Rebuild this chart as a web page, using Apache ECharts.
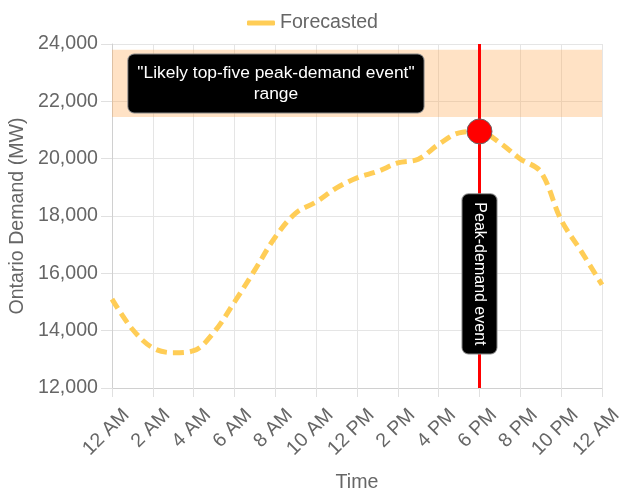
<!DOCTYPE html>
<html>
<head>
<meta charset="utf-8">
<script src="https://cdn.jsdelivr.net/npm/echarts@6/dist/echarts.min.js"></script>
<style>html,body{margin:0;padding:0;background:#fff}#c{width:625px;height:500px}</style>
</head>
<body>
<div id="c"></div>
<script>
const hours = [0,1,2,3,4,5,6,7,8,9,10,11,12,13,14,15,16,17,18,19,20,21,22,23,24];
const forecast = [15100,14050,13400,13230,13300,13950,15000,16120,17270,18100,18490,18980,19330,19550,19850,19980,20500,20900,20950,20550,19990,19540,17860,16750,15600];
const tickLabels = ['12 AM','2 AM','4 AM','6 AM','8 AM','10 AM','12 PM','2 PM','4 PM','6 PM','8 PM','10 PM','12 AM'];
const yTicks = [12000,14000,16000,18000,20000,22000,24000];
const peakHour = 18;
const peakValue = 20950;
const bandRange = [21450, 23800];

const chart = echarts.init(document.getElementById('c'), null, {renderer:'canvas'});
const font = 'Liberation Sans, Arial, Helvetica, sans-serif';
const fs = 19.6;
chart.setOption({
  animation: false,
  textStyle: {fontFamily: font},
  legend: {
    top: 8, left: 'center',
    icon: 'roundRect', itemWidth: 28, itemHeight: 5, itemGap: 10,
    textStyle: {color: '#666', fontSize: fs, fontFamily: font},
    data: ['Forecasted']
  },
  grid: {left: 112, right: 23, top: 44, bottom: 112, containLabel: false, outerBoundsMode: 'none'},
  xAxis: {
    type: 'value', min: 0, max: 24, interval: 2,
    name: 'Time', nameLocation: 'middle', nameGap: 85,
    nameTextStyle: {color: '#666', fontSize: fs, fontFamily: font},
    axisLine: {show: true, lineStyle: {color: '#d0d0d0'}},
    axisTick: {show: true, length: 9, lineStyle: {color: '#e0e0e0'}},
    splitLine: {show: true, lineStyle: {color: '#e5e5e5'}},
    axisLabel: {
      rotate: 45, margin: 10, color: '#666', fontSize: fs, fontFamily: font,
      verticalAlign: 'top', padding: [10, 0, 0, 0],
      formatter: v => tickLabels[Math.round(v/2)]
    }
  },
  yAxis: {
    type: 'value', min: yTicks[0], max: yTicks[yTicks.length-1], interval: 2000,
    name: 'Ontario Demand (MW)', nameLocation: 'middle', nameGap: 79,
    nameTextStyle: {color: '#666', fontSize: fs, fontFamily: font},
    axisLine: {show: true, lineStyle: {color: '#d0d0d0'}},
    axisTick: {show: true, length: 11, lineStyle: {color: '#e0e0e0'}},
    splitLine: {show: true, lineStyle: {color: '#e5e5e5'}},
    axisLabel: {
      color: '#666', fontSize: fs, margin: 14, fontFamily: font,
      formatter: v => v.toLocaleString('en-US')
    }
  },
  series: [{
    name: 'Forecasted',
    type: 'line',
    data: hours.map((h,i) => [h, forecast[i]]),
    smooth: 0.35,
    showSymbol: false,
    symbol: 'none',
    itemStyle: {color: '#ffcd56'},
    lineStyle: {color: '#ffcd56', width: 5, type: [11, 6]},
    z: 3,
    markArea: {
      silent: true,
      itemStyle: {color: 'rgba(255,159,64,0.3)'},
      data: [[{yAxis: bandRange[0]}, {yAxis: bandRange[1]}]]
    },
    markLine: {
      silent: true, symbol: 'none', animation: false,
      lineStyle: {color: '#ff0000', width: 3, type: 'solid'},
      label: {show: false},
      data: [{xAxis: peakHour}]
    },
    markPoint: {
      silent: true,
      data: [
        {
          coord: [peakHour, peakValue], symbol: 'circle', symbolSize: 25,
          itemStyle: {color: '#ff0000', borderColor: '#666', borderWidth: 1},
          label: {show: false}
        },
        {
          coord: [8.03, 22620], symbol: 'circle', symbolSize: 0,
          label: {
            show: true, position: 'inside',
            formatter: '"Likely top-five peak-demand event"\nrange',
            color: '#fff', fontSize: 17.4, lineHeight: 21, align: 'center', fontFamily: font,
            backgroundColor: '#000', borderColor: '#888', borderWidth: 1, borderRadius: 6,
            padding: [8, 9, 8, 9]
          }
        },
        {
          coord: [peakHour, 15980], symbol: 'circle', symbolSize: 0,
          label: {
            show: true, position: 'inside', rotate: -90,
            formatter: 'Peak-demand event',
            color: '#fff', fontSize: 16, fontFamily: font,
            backgroundColor: '#000', borderColor: '#888', borderWidth: 1, borderRadius: 6,
            padding: [9, 8, 9, 8]
          }
        }
      ]
    }
  }]
});
</script>
</body>
</html>
